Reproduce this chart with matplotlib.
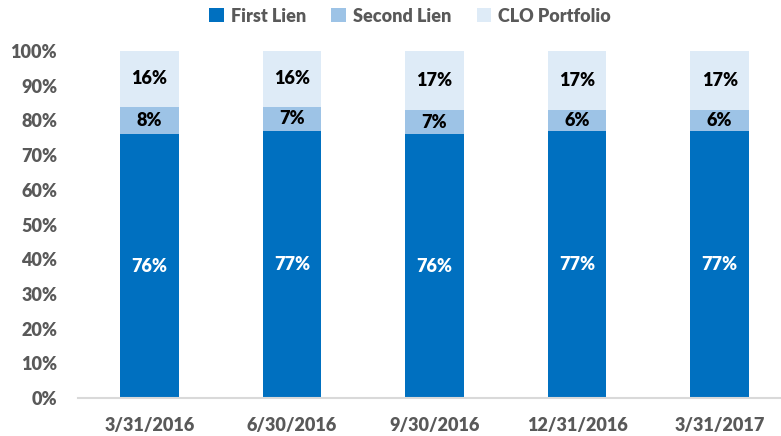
import matplotlib.pyplot as plt
import numpy as np

dates = ['3/31/2016', '6/30/2016', '9/30/2016', '12/31/2016', '3/31/2017']
first_lien = [76, 77, 76, 77, 77]
second_lien = [8, 7, 7, 6, 6]
clo = [16, 16, 17, 17, 17]

plt.rcParams['font.family'] = ['Lato', 'DejaVu Sans']
gray = '#595959'
wt = 'heavy'

fig = plt.figure(figsize=(7.81, 4.36), dpi=100)
ax = fig.add_axes([78 / 781, 38 / 436, 703 / 781, 347 / 436])

x = np.arange(len(dates))
w = 0.41
fl = np.array(first_lien) / 100
sl = np.array(second_lien) / 100
cl = np.array(clo) / 100

b1 = ax.bar(x, fl, w, color='#0070C0', label='First Lien')
b2 = ax.bar(x, sl, w, bottom=fl, color='#9DC3E6', label='Second Lien')
b3 = ax.bar(x, cl, w, bottom=fl + sl, color='#DEEBF7', label='CLO Portfolio')

for i in range(len(dates)):
    ax.text(x[i], fl[i] / 2, f'{first_lien[i]}%', ha='center', va='center',
            color='white', fontsize=13, fontweight=wt)
    ax.text(x[i], fl[i] + sl[i] / 2, f'{second_lien[i]}%', ha='center', va='center',
            color='black', fontsize=13, fontweight=wt)
    ax.text(x[i], fl[i] + sl[i] + cl[i] / 2, f'{clo[i]}%', ha='center', va='center',
            color='black', fontsize=13, fontweight=wt)

ax.set_xlim(-0.5, -0.5 + 703 / 142.6)
ax.set_ylim(0, 1)
ax.set_yticks(np.arange(0, 1.01, 0.1))
ax.set_yticklabels([f'{int(round(v * 100))}%' for v in np.arange(0, 1.01, 0.1)])
ax.set_xticks(x)
ax.set_xticklabels(dates)
ax.tick_params(axis='both', length=0, labelsize=13, labelcolor=gray)
ax.tick_params(axis='x', pad=14)
ax.tick_params(axis='y', pad=15)
for lbl in ax.get_xticklabels() + ax.get_yticklabels():
    lbl.set_fontweight(wt)

for s in ['top', 'right', 'left']:
    ax.spines[s].set_visible(False)
ax.spines['bottom'].set_color('#D9D9D9')
ax.spines['bottom'].set_linewidth(1.5)

leg = fig.legend(handles=[b1, b2, b3], loc='upper center', bbox_to_anchor=(0.525, 1.02),
                 ncol=3, frameon=False, fontsize=13, handlelength=0.8, handleheight=0.8,
                 columnspacing=1.4, handletextpad=0.4)
for t in leg.get_texts():
    t.set_color(gray)
    t.set_fontweight(wt)

fig.savefig('out.png', dpi=100)
